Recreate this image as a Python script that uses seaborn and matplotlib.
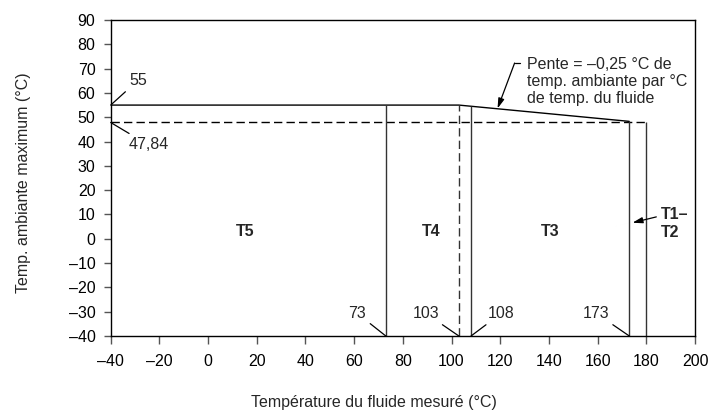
import matplotlib
matplotlib.use("Agg")
import matplotlib.pyplot as plt
import seaborn as sns
import pandas as pd

# ---- data ----
x_ticks = [-40, -20, 0, 20, 40, 60, 80, 100, 120, 140, 160, 180, 200]
x_tick_labels = ["–40", "–20", "0", "20", "40", "60", "80", "100", "120", "140", "160", "180", "200"]
y_ticks = [-40, -30, -20, -10, 0, 10, 20, 30, 40, 50, 60, 70, 80, 90]
y_tick_labels = ["–40", "–30", "–20", "–10", "0", "10", "20", "30", "40", "50", "60", "70", "80", "90"]

envelope_x = [-40, 103, 173]
envelope_y = [55, 55, 48.3]
dashed_x = [-40, 180]
dashed_y = [47.84, 47.84]

limit_x = [73, 103, 108, 173, 180]
limit_top = [55, 55, 54.5, 48.3, 47.84]
limit_dashed = [False, True, False, False, False]
limit_labels = ["73", "103", "108", "173", None]

class_names = ["T5", "T4", "T3"]
class_x = [15.4, 91.7, 140.5]

FS = 11.5

# ---- figure ----
sns.set_theme(style="ticks")
plt.rcParams["font.family"] = ["Liberation Sans", "DejaVu Sans"]

fig = plt.figure(figsize=(7.16, 4.16), dpi=100)
ax = fig.add_axes([0.1546, 0.1923, 0.8161, 0.7596])

env = pd.DataFrame({"x": envelope_x, "y": envelope_y})
sns.lineplot(data=env, x="x", y="y", ax=ax, color="black", lw=1.0, sort=False)
dsh = pd.DataFrame({"x": dashed_x, "y": dashed_y})
sns.lineplot(data=dsh, x="x", y="y", ax=ax, color="black", lw=1.0, linestyle=(0, (6, 3)))

for xv, top, dashed in zip(limit_x, limit_top, limit_dashed):
    ax.vlines(xv, -40, top, color="#333333", lw=1.0,
              linestyles=(0, (6, 3)) if dashed else "solid")

# value labels at bottom
for xv, lab in zip(limit_x, limit_labels):
    if lab is None:
        continue
    if lab == "108":
        ax.annotate(lab, xy=(xv, -40), xytext=(xv + 7, -30.6),
                    ha="left", va="center", fontsize=FS,
                    arrowprops=dict(arrowstyle="-", color="black", lw=0.9,
                                    shrinkA=1, shrinkB=0))
    else:
        ax.annotate(lab, xy=(xv, -40), xytext=(xv - 8.2, -30.6),
                    ha="right", va="center", fontsize=FS,
                    arrowprops=dict(arrowstyle="-", color="black", lw=0.9,
                                    shrinkA=1, shrinkB=0))

ax.annotate("55", xy=(-40, 55), xytext=(-32.3, 65.3), ha="left", va="center",
            fontsize=FS, arrowprops=dict(arrowstyle="-", color="black", lw=0.9,
                                         shrinkA=1, shrinkB=0))
ax.annotate("47,84", xy=(-40, 47.84), xytext=(-32.8, 38.6), ha="left", va="center",
            fontsize=FS, arrowprops=dict(arrowstyle="-", color="black", lw=0.9,
                                         shrinkA=1, shrinkB=0))

# slope annotation
ax.plot([125.9, 128.0], [72.3, 72.3], color="black", lw=0.9)
ax.annotate("", xy=(118.9, 53.6), xytext=(125.9, 72.3),
            arrowprops=dict(arrowstyle="-|>,head_length=0.5,head_width=0.15",
                            color="black", lw=0.9, shrinkA=0, shrinkB=0))
ax.text(130.8, 64.6, "Pente = –0,25 °C de\ntemp. ambiante par °C\nde temp. du fluide",
        ha="left", va="center", fontsize=FS, linespacing=1.16)

# class labels
for nm, xv in zip(class_names, class_x):
    ax.text(xv, 3, nm, ha="center", va="center", fontsize=FS, fontweight="bold")
ax.text(186.0, 6.3, "T1–\nT2", ha="left", va="center", fontsize=FS,
        fontweight="bold", linespacing=1.18)
ax.annotate("", xy=(174.3, 6.6), xytext=(184.1, 9.0),
            arrowprops=dict(arrowstyle="-|>,head_length=0.5,head_width=0.15",
                            color="black", lw=0.9, shrinkA=0, shrinkB=0))

ax.set_xlim(-40, 200)
ax.set_ylim(-40, 90)
ax.set_xticks(x_ticks)
ax.set_xticklabels(x_tick_labels)
ax.set_yticks(y_ticks)
ax.set_yticklabels(y_tick_labels)
ax.tick_params(axis="both", direction="out", width=1, color="#555555",
               labelsize=FS, labelcolor="black")
ax.tick_params(axis="x", length=6, pad=7)
ax.tick_params(axis="y", length=5, pad=6)
for sp in ax.spines.values():
    sp.set_visible(True)
    sp.set_color("black")
    sp.set_linewidth(1.0)

ax.set_xlabel("Température du fluide mesuré (°C)", fontsize=FS)
ax.set_ylabel("Temp. ambiante maximum (°C)", fontsize=FS)
ax.xaxis.set_label_coords(0.451, -0.187)
ax.yaxis.set_label_coords(-0.137, 0.485)

fig.savefig("out.png", dpi=100, facecolor="white")
